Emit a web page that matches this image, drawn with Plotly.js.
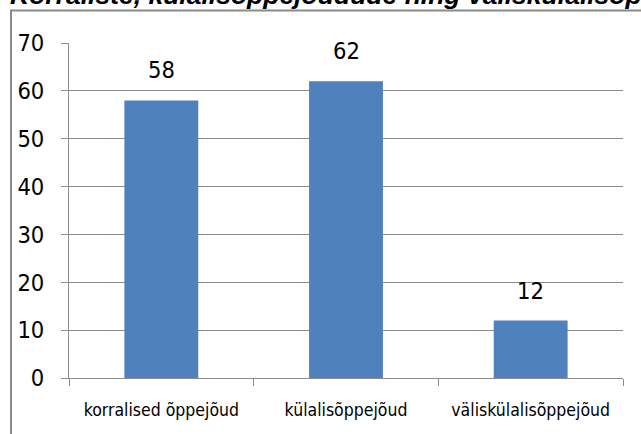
<!DOCTYPE html>
<html>
<head>
<meta charset="utf-8">
<script src="https://cdn.plot.ly/plotly-3.0.1.min.js"></script>
<style>
html,body{margin:0;padding:0;background:#fff;}
#chart{width:641px;height:434px;}
</style>
</head>
<body>
<div id="chart"></div>
<script>
const titleText = "Korraliste, külalisõppejõudude ning väliskülalisõppejõudude";
const categories = ["korralised õppejõud", "külalisõppejõud", "väliskülalisõppejõud"];
const values = [58, 62, 12];
const yTickValues = [0, 10, 20, 30, 40, 50, 60, 70];

const W = 641, H = 434;
const L = 69, R = 18, T = 42.7, B = 55.5;
const pw = W - L - R, ph = H - T - B;
const px = x => (x - L) / pw;
const py = y => (H - B - y) / ph;

const narrow = "'DejaVu Sans Condensed', 'Liberation Sans Narrow', 'DejaVu Sans', sans-serif";
const numFont = {family: narrow, size: 23.5, color: "#000"};

const labelAnns = categories.map((c, i) => ({
  x: c, y: values[i], xref: "x", yref: "y",
  text: String(values[i]), showarrow: false,
  xanchor: "center", yanchor: "bottom", yshift: 14,
  font: numFont
}));

const data = [{
  type: "bar",
  x: categories,
  y: values,
  marker: {color: "#4F81BD", line: {width: 0}},
  hoverinfo: "none"
}];

const layout = {
  width: W, height: H,
  margin: {l: L, r: R, t: T, b: B, pad: 0},
  paper_bgcolor: "#fff",
  plot_bgcolor: "#fff",
  showlegend: false,
  bargap: 0.6,
  xaxis: {
    type: "category",
    showgrid: false,
    showline: true, linecolor: "#8c8c8c", linewidth: 1,
    ticks: "outside", tickson: "boundaries", ticklen: 7, tickcolor: "#8c8c8c",
    tickfont: {family: narrow, size: 17.5, color: "#000"},
    ticklabelstandoff: 16,
    zeroline: false
  },
  yaxis: {
    range: [0, 70],
    tickvals: yTickValues,
    showgrid: true, gridcolor: "#8c8c8c", gridwidth: 1,
    showline: true, linecolor: "#8c8c8c", linewidth: 1,
    ticks: "outside", ticklen: 7, tickcolor: "#8c8c8c",
    tickfont: numFont,
    ticklabelstandoff: 12,
    zeroline: false
  },
  annotations: [{
    xref: "paper", yref: "paper",
    x: px(8), y: py(12),
    xanchor: "left", yanchor: "bottom",
    text: titleText, showarrow: false,
    font: {family: "Liberation Sans, Arial, sans-serif", size: 26.5, color: "#000", weight: "bold", style: "italic"}
  }].concat(labelAnns),
  shapes: [{
    type: "rect", xref: "paper", yref: "paper",
    x0: px(11), x1: px(700), y0: py(520), y1: py(10),
    line: {color: "#8a8a8a", width: 2}, fillcolor: "rgba(0,0,0,0)", layer: "below"
  }]
};

Plotly.newPlot("chart", data, layout, {staticPlot: true, displayModeBar: false});
</script>
</body>
</html>
